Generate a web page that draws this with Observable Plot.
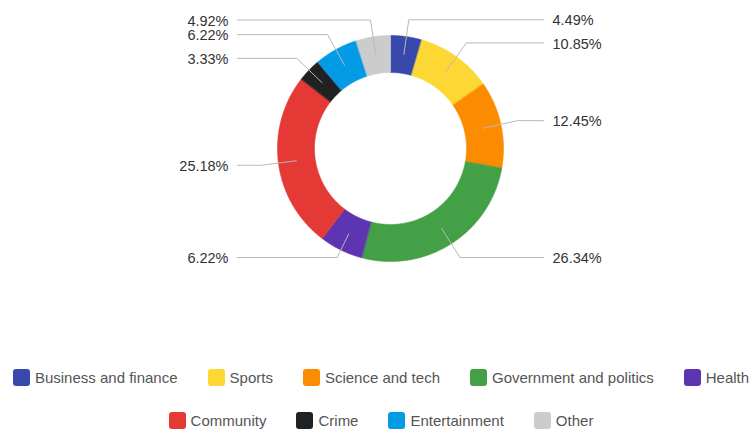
<!DOCTYPE html>
<html><head><meta charset="utf-8">
<script src="https://cdn.jsdelivr.net/npm/d3@7"></script>
<script src="https://cdn.jsdelivr.net/npm/@observablehq/plot@0.6"></script>
<style>
html,body{overflow:hidden;}
body{margin:0;background:#fff;font-family:"Liberation Sans",Arial,sans-serif;}
#chart svg{display:block;}
#legend{position:relative;left:6px;display:flex;flex-wrap:wrap;justify-content:center;column-gap:30px;row-gap:23px;width:750px;padding-top:27px;}
.item{display:flex;align-items:center;height:20px;font-size:15px;color:#555;white-space:nowrap;}
.sw{width:17px;height:17px;border-radius:3px;margin-right:5px;}
</style></head><body><div id="chart"></div><div id="legend"></div>
<script>
const categories = ["Business and finance","Sports","Science and tech","Government and politics","Health","Community","Crime","Entertainment","Other"];
const values = [4.49, 10.85, 12.45, 26.34, 6.22, 25.18, 3.33, 6.22, 4.92];
const colors = ["#3949ab","#fdd835","#fb8c00","#43a047","#5e35b1","#e53935","#212121","#039be5","#cccccc"];

const W = 750, H = 340;
const cx = 390, cy = 148, R = 113, r0 = 76, rMid = 95, rElbow = 130, yMax = cy + 109;
const total = d3.sum(values);

// slices
const slices = [];
let acc = 0;
categories.forEach((name, i) => {
  const a0 = acc / total * 2 * Math.PI;
  acc += values[i];
  const a1 = acc / total * 2 * Math.PI;
  slices.push({name, value: values[i], a0, a1, mid: (a0 + a1) / 2});
});

const px = (rad, a) => [cx + rad * Math.sin(a), cy - rad * Math.cos(a)];

const ring = [];
for (const s of slices) {
  const n = Math.max(2, Math.ceil((s.a1 - s.a0) / 0.01));
  for (let k = 0; k <= n; k++) {
    const a = s.a0 + (s.a1 - s.a0) * k / n;
    const [x, y] = px(R, a); ring.push({name: s.name, x, y});
  }
  for (let k = n; k >= 0; k--) {
    const a = s.a0 + (s.a1 - s.a0) * k / n;
    const [x, y] = px(r0, a); ring.push({name: s.name, x, y});
  }
}

// leader lines and labels
const leaders = [], labels = [];
for (const s of slices) {
  const [x1, y1] = px(rMid, s.mid);
  let [x2, y2] = px(rElbow, s.mid);
  if (y2 > yMax) {
    const t = (yMax - y1) / (-Math.cos(s.mid));
    x2 = x1 + t * Math.sin(s.mid); y2 = yMax;
  }
  const right = Math.sin(s.mid) >= 0;
  const x3 = right ? cx + 153 : cx - 153;
  leaders.push({name: s.name, x: x1, y: y1}, {name: s.name, x: x2, y: y2}, {name: s.name, x: x3, y: y2});
  labels.push({right, x: right ? cx + 162 : cx - 162, y: y2 + 1, text: s.value.toFixed(2) + "%"});
}

const chart = Plot.plot({
  width: W, height: H,
  margin: 0,
  x: {domain: [0, W], range: [0, W], axis: null},
  y: {domain: [0, H], range: [0, H], axis: null},
  color: {domain: categories, range: colors},
  style: {fontFamily: "Liberation Sans, Arial, sans-serif", background: "#fff"},
  marks: [
    Plot.line(ring, {x: "x", y: "y", z: "name", fill: "name", stroke: "name", strokeWidth: 0.6, curve: "linear-closed"}),
    Plot.line(leaders, {x: "x", y: "y", z: "name", stroke: "#b8b8b8", strokeWidth: 1}),
    Plot.text(labels.filter(d => d.right), {x: "x", y: "y", text: "text", textAnchor: "start", fill: "#333", fontSize: 14.5}),
    Plot.text(labels.filter(d => !d.right), {x: "x", y: "y", text: "text", textAnchor: "end", fill: "#333", fontSize: 14.5})
  ]
});
document.getElementById("chart").appendChild(chart);

const legend = document.getElementById("legend");
categories.forEach((c, i) => {
  const it = document.createElement("div"); it.className = "item";
  const sw = document.createElement("div"); sw.className = "sw"; sw.style.background = colors[i];
  const tx = document.createElement("span"); tx.textContent = c;
  it.appendChild(sw); it.appendChild(tx); legend.appendChild(it);
});
</script></body></html>
